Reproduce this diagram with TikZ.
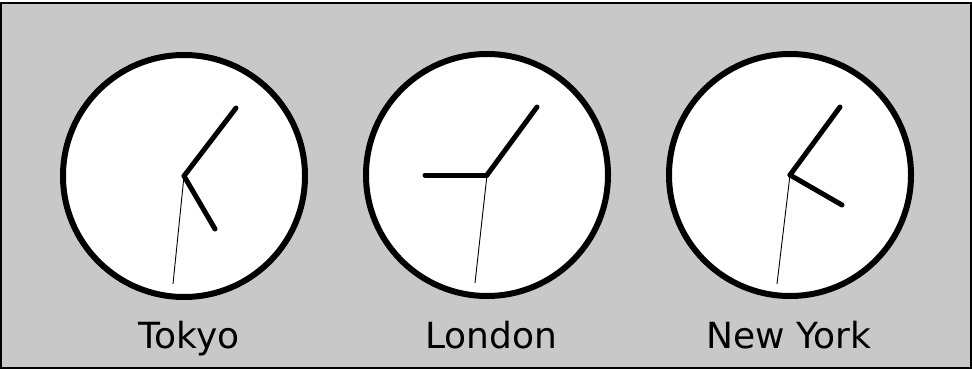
\documentclass[tikz,border=0pt]{standalone}
\usepackage{fontspec}
\setmainfont{DejaVu Sans}
\definecolor{panelgrey}{RGB}{200,200,200}
\usetikzlibrary{positioning,calc}

\tikzset{
  face/.style={circle,draw=black,fill=white,line width=6pt,minimum size=242pt,inner sep=0pt},
  hand/.style={line width=5pt,line cap=round},
  sechand/.style={line width=0.9pt},
  city/.style={font=\fontsize{36}{40}\selectfont,anchor=base}
}

\begin{document}
\begin{tikzpicture}[x=1pt,y=-1pt]
  \useasboundingbox (0,0) rectangle (972,369);
  % panel
  \draw[fill=panelgrey,line width=2pt] (1,3.5) rectangle (970.5,367.5);

  % clock faces
  \node[face] (tokyo) at (184,176) {};
  \node[face] (london) at (487,175) {};
  \node[face] (newyork) at (790,175) {};

  % hands: minute, hour, second
  \draw[hand] (tokyo.center) -- ++(52,-68);
  \draw[hand] (tokyo.center) -- ++(31,53);
  \draw[sechand] (tokyo.center) -- ++(-11,108);

  \draw[hand] (london.center) -- ++(50,-68);
  \draw[hand] (london.center) -- ++(-62,0);
  \draw[sechand] (london.center) -- ++(-12,108);

  \draw[hand] (newyork.center) -- ++(50,-68);
  \draw[hand] (newyork.center) -- ++(52,30);
  \draw[sechand] (newyork.center) -- ++(-13,109);

  % labels
  \node[city] (tokyolbl) at (189,348) {Tokyo};
  \node[city] (londonlbl) at (491,348) {London};
  \node[city] (newyorklbl) at (789,348) {New York};
\end{tikzpicture}
\end{document}
